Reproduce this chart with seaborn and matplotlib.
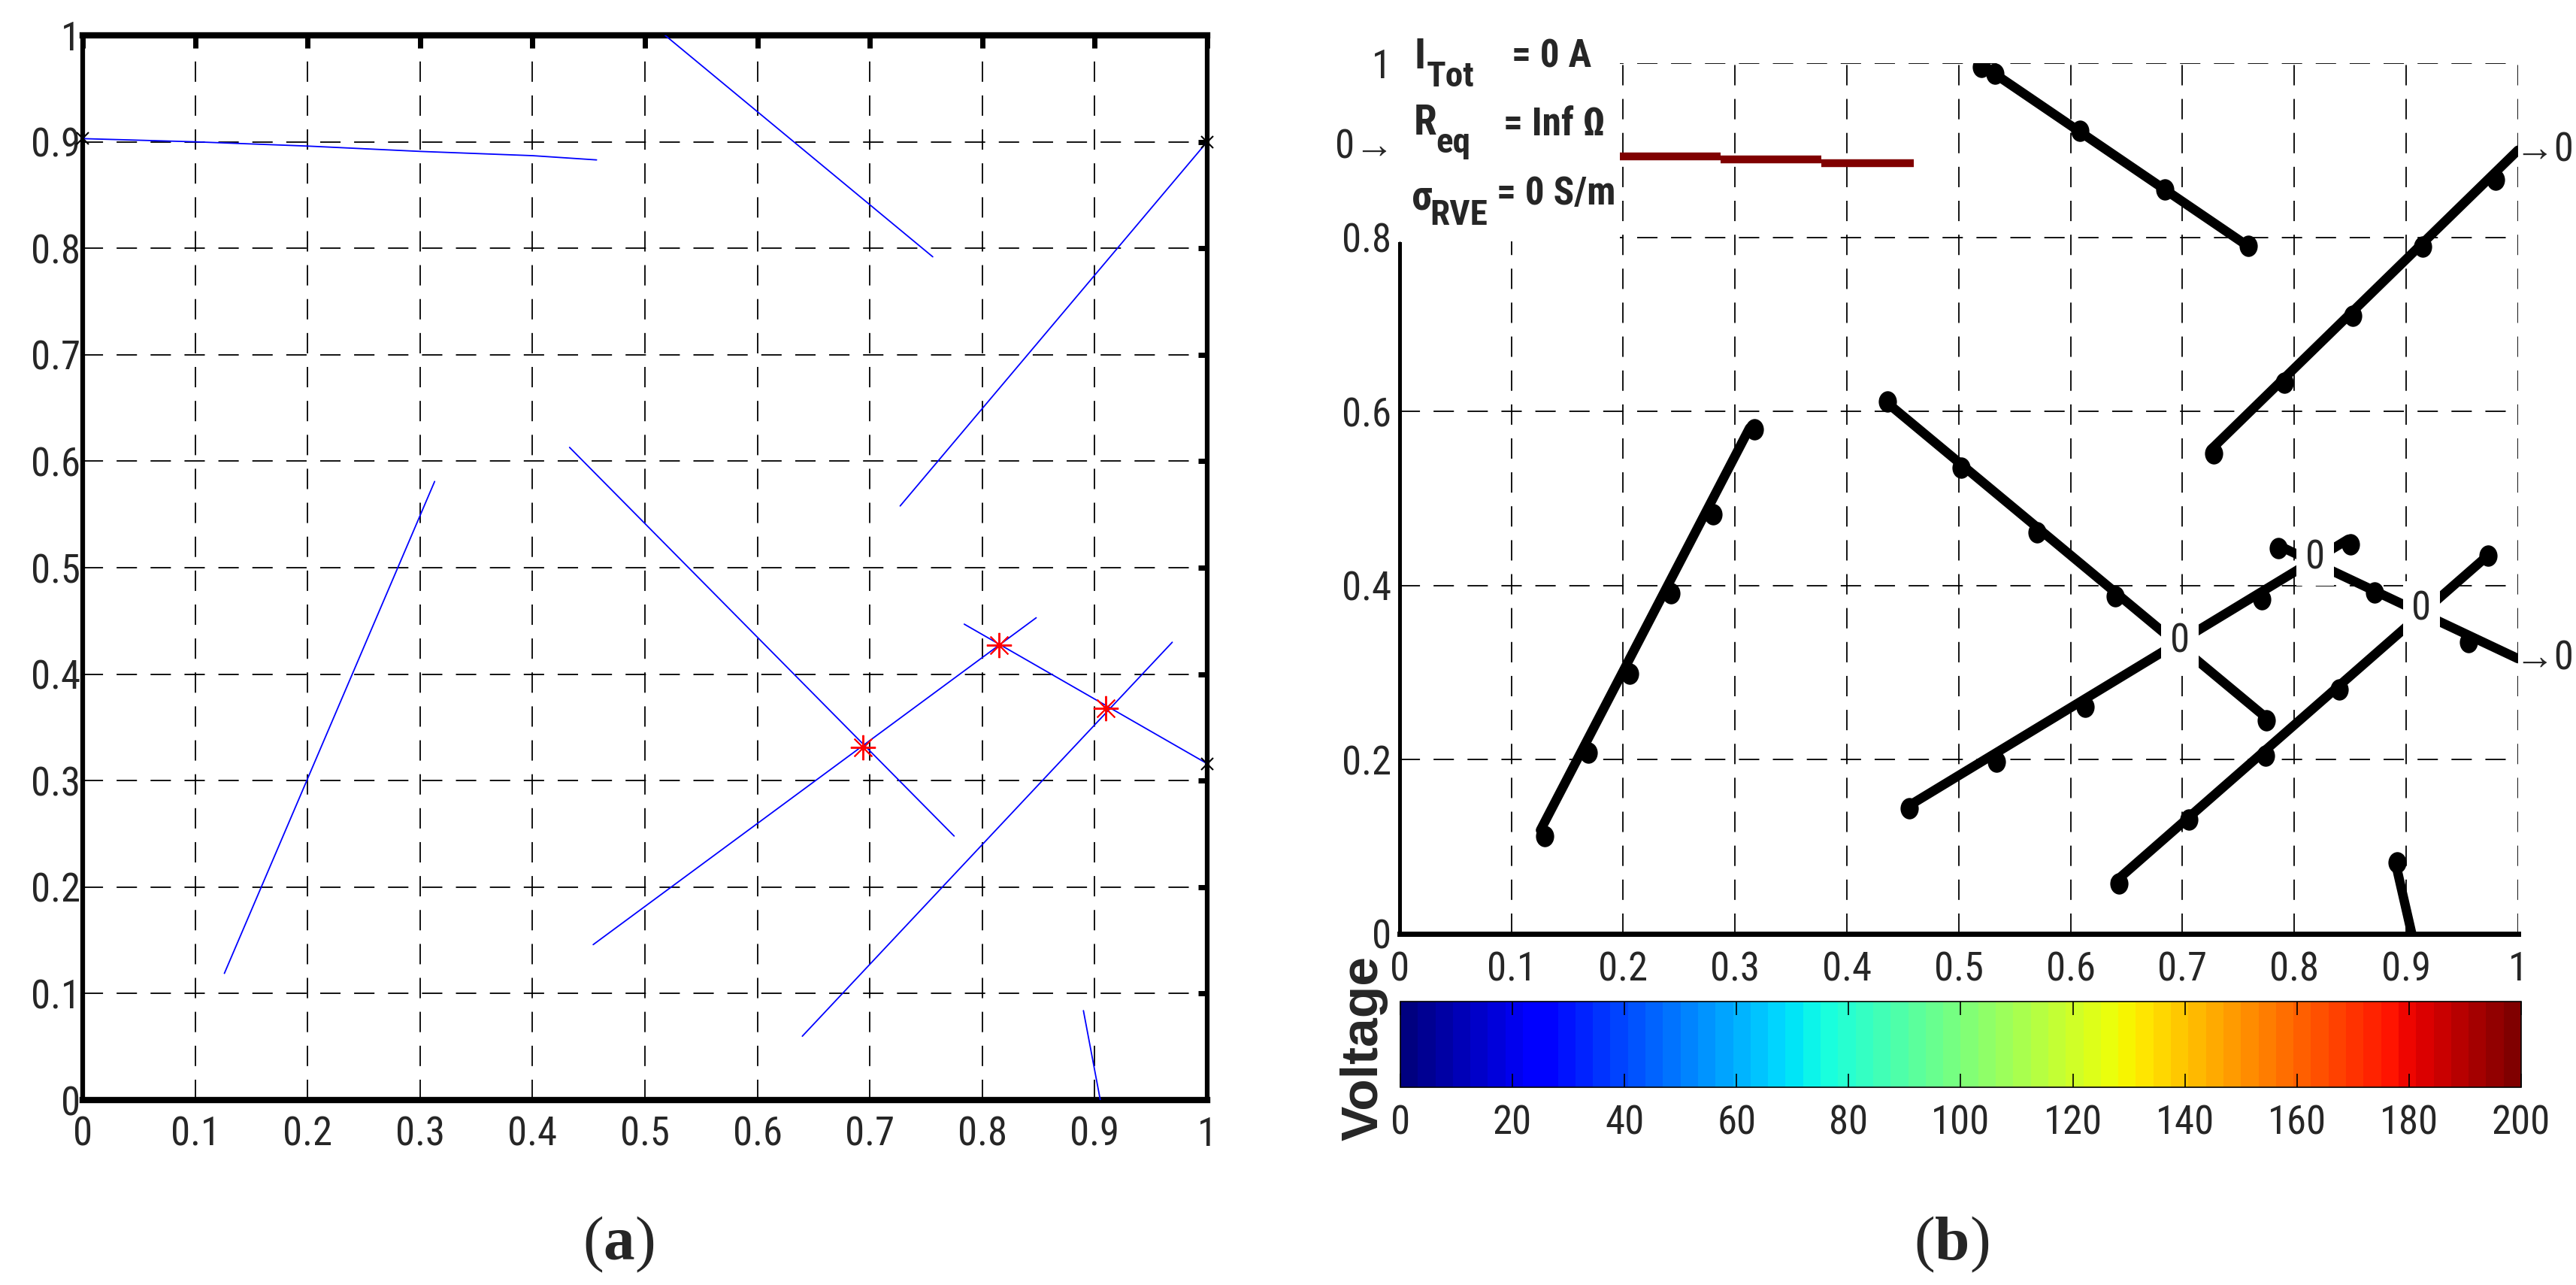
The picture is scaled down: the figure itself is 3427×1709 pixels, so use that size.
import numpy as np
import pandas as pd
import seaborn as sns
import matplotlib
matplotlib.use("Agg")
import matplotlib.pyplot as plt
import matplotlib.font_manager as fm
from matplotlib.markers import MarkerStyle
from matplotlib.transforms import Affine2D
from matplotlib.patches import Rectangle
from matplotlib.cm import ScalarMappable
from matplotlib.colors import Normalize

# fibres as polylines
fiber_id = [1, 1, 1, 1, 1, 1, 2, 2, 3, 3, 4, 4, 5, 5, 6, 6, 7, 7, 8, 8, 9, 9]
fiber_x = [0.0, 0.1, 0.2, 0.3, 0.4, 0.457, 0.518, 0.756, 0.727, 1.0, 0.126, 0.313,
           0.433, 0.775, 0.454, 0.848, 0.784, 1.0, 0.640, 0.969, 0.890, 0.905]
fiber_y = [0.903, 0.900, 0.896, 0.891, 0.887, 0.883, 1.0, 0.792, 0.558, 0.900, 0.119, 0.581,
           0.613, 0.248, 0.146, 0.453, 0.447, 0.316, 0.060, 0.430, 0.084, 0.0]

# fibre crossings
junc_x = [0.694, 0.815, 0.910]
junc_y = [0.331, 0.427, 0.368]
junc_volt = ["0", "0", "0"]

# fibres touching the cell border
edge_x = [0.0, 1.0, 1.0]
edge_y = [0.903, 0.900, 0.316]
edge_lbl = ["0\u2192", "\u21920", "\u21920"]

# resistor nodes drawn as dots in panel (b)
node_x = [0.520, 0.532, 0.608, 0.684, 0.759,
          0.728, 0.791, 0.852, 0.915, 0.980,
          0.130, 0.1685, 0.2055, 0.243, 0.280, 0.317,
          0.436, 0.502, 0.570, 0.640, 0.775,
          0.456, 0.534, 0.613, 0.771, 0.850,
          0.786, 0.872, 0.956,
          0.643, 0.706, 0.774, 0.840, 0.973,
          0.892]
node_y = [0.996, 0.988, 0.922, 0.855, 0.790,
          0.552, 0.633, 0.710, 0.789, 0.866,
          0.112, 0.208, 0.299, 0.391, 0.482, 0.579,
          0.611, 0.535, 0.461, 0.388, 0.245,
          0.144, 0.198, 0.261, 0.384, 0.447,
          0.443, 0.392, 0.335,
          0.058, 0.131, 0.205, 0.281, 0.434,
          0.082]

# visible part of fibre 1 in panel (b), coloured by voltage
hot_x0 = [0.197, 0.287, 0.377]
hot_x1 = [0.287, 0.377, 0.460]
hot_y = [0.893, 0.889, 0.885]
hot_volt = [200, 200, 200]

ticks_a = [0, 0.1, 0.2, 0.3, 0.4, 0.5, 0.6, 0.7, 0.8, 0.9, 1]
ticks_a_lbl = ["0", "0.1", "0.2", "0.3", "0.4", "0.5", "0.6", "0.7", "0.8", "0.9", "1"]
ticks_by = [0, 0.2, 0.4, 0.6, 0.8, 1]
ticks_by_lbl = ["0", "0.2", "0.4", "0.6", "0.8", "1"]
volt_ticks = [0, 20, 40, 60, 80, 100, 120, 140, 160, 180, 200]

sns.set_style("white")
# the original labels use a narrow sans face; take one if the machine has it
installed = {f.name for f in fm.fontManager.ttflist}
base_font, fs, narrow = "Liberation Sans", 36, False
for cand in ["Liberation Sans Narrow", "Arial Narrow", "Roboto Condensed"]:
    if cand in installed:
        base_font, fs, narrow = cand, 38, True
        break
plt.rcParams["font.family"] = [base_font, "Liberation Sans", "DejaVu Sans"]
plt.rcParams["mathtext.fontset"] = "custom"
plt.rcParams["mathtext.rm"] = "Liberation Serif"
plt.rcParams["mathtext.bf"] = "Liberation Serif:bold"

fig = plt.figure(figsize=(34.27, 17.09), dpi=100)
ax_a = fig.add_axes([0.0321, 0.1439, 0.4365, 0.8286])
ax_b = fig.add_axes([0.5433, 0.2733, 0.4342, 0.6776])
cax = fig.add_axes([0.5436, 0.1539, 0.4351, 0.0667])

fibers = pd.DataFrame({"fiber": fiber_id, "x": fiber_x, "y": fiber_y})
nodes = pd.DataFrame({"x": node_x, "y": node_y})
dash = (0, (15, 10))
cmap = plt.get_cmap("jet").resampled(64)
norm = Normalize(0, 200)

# ---------- panel (a): fibre geometry
sns.lineplot(data=fibers, x="x", y="y", units="fiber", estimator=None, sort=False,
             color="blue", lw=1.3, legend=False, ax=ax_a, zorder=3)
ax_a.plot(junc_x, junc_y, ls="none", marker=(8, 2, 0), ms=24, mec="red", mew=1.4, zorder=4)
ax_a.plot(edge_x, edge_y, ls="none", marker="x", ms=11, mec="black", mew=1.5,
          clip_on=False, zorder=4)
ax_a.set_xlim(0, 1)
ax_a.set_ylim(0, 1)
ax_a.set_xticks(ticks_a, ticks_a_lbl, fontsize=fs)
ax_a.set_yticks(ticks_a, ticks_a_lbl, fontsize=fs)
ax_a.set_xlabel("")
ax_a.set_ylabel("")
ax_a.grid(True, color="black", lw=1.3, ls=dash)
ax_a.tick_params(direction="in", top=True, right=True, width=5, color="black")
ax_a.tick_params(axis="x", length=12, pad=15)
ax_a.tick_params(axis="y", length=9, pad=2)
for side in ["top", "bottom"]:
    ax_a.spines[side].set_linewidth(6)
for side in ["left", "right"]:
    ax_a.spines[side].set_linewidth(4.5)
for sp in ax_a.spines.values():
    sp.set_color("black")

# ---------- panel (b): resistor network
sns.lineplot(data=fibers[fibers["fiber"] != 1], x="x", y="y", units="fiber", estimator=None,
             sort=False, color="black", lw=9, legend=False, ax=ax_b, zorder=3)
ax_b.hlines(hot_y, hot_x0, hot_x1, colors=[cmap(norm(v)) for v in hot_volt], lw=7.5, zorder=3)
sns.scatterplot(data=nodes, x="x", y="y", marker=MarkerStyle("o", transform=Affine2D().scale(0.85, 1)),
                s=420, color="black", edgecolor="black", linewidth=0, legend=False, ax=ax_b, zorder=4)
for jx, jy, v in zip(junc_x, junc_y, junc_volt):
    ax_b.annotate(v, (jx, jy), xytext=(4, 4), textcoords="offset points", ha="center", va="center",
                  fontsize=fs, zorder=6,
                  bbox=dict(boxstyle="square,pad=0.22", fc="white", ec="none"))
for ex, ey, lb in zip(edge_x, edge_y, edge_lbl):
    ax_b.annotate(lb, (ex, ey), xytext=(-5, 0) if ex == 0 else (-3, 0), textcoords="offset points",
                  ha="right" if ex == 0 else "left", va="center", fontsize=fs,
                  annotation_clip=False, zorder=6)

ax_b.set_xlim(0, 1)
ax_b.set_ylim(0, 1)
ax_b.set_xticks(ticks_a, ticks_a_lbl, fontsize=fs)
ax_b.set_yticks(ticks_by, ticks_by_lbl, fontsize=fs)
ax_b.set_xlabel("")
ax_b.set_ylabel("")
ax_b.grid(True, color="black", lw=1.3, ls=dash)
ax_b.tick_params(direction="in", width=5, color="black")
ax_b.tick_params(axis="x", length=13, pad=16)
ax_b.tick_params(axis="y", length=9, pad=8)
ax_b.spines["top"].set_visible(False)
ax_b.spines["right"].set_visible(False)
ax_b.spines["left"].set_linewidth(3.6)
ax_b.spines["left"].set_bounds(0, 0.793)
ax_b.spines["bottom"].set_linewidth(5)
for sp in ax_b.spines.values():
    sp.set_color("black")

# white info box in the upper left corner
ax_b.add_patch(Rectangle((-0.006, 0.795), 0.203, 0.26, fc="white", ec="none",
                         zorder=1, clip_on=False))
info_main = ["I", "R", "\u03c3"]
info_sub = ["Tot", "eq", "RVE"]
info_val = ["= 0 A", "= Inf \u03a9", "= 0 S/m"]
main_pos = [(0.013, 0.994), (0.013, 0.918), (0.011, 0.832)]
sub_pos = [(0.024, 0.973), (0.0326, 0.897), (0.027, 0.8145)]
val_pos = [(0.100, 0.995), (0.0926, 0.917), (0.087, 0.838)]
if narrow:
    fs_main, fs_sub, fs_val = 40, 34, 37
else:
    fs_main, fs_sub, fs_val = 37, 27, 32
for t, (px, py) in zip(info_main, main_pos):
    ax_b.text(px, py, t, fontsize=fs_main, fontweight="bold", va="baseline", zorder=6)
for t, (px, py) in zip(info_sub, sub_pos):
    ax_b.text(px, py, t, fontsize=fs_sub, fontweight="bold", va="baseline", zorder=6)
for t, (px, py) in zip(info_val, val_pos):
    ax_b.text(px, py, t, fontsize=fs_val, fontweight="bold", va="baseline", zorder=6)

# ---------- colour bar
cb = fig.colorbar(ScalarMappable(norm=norm, cmap=cmap), cax=cax, orientation="horizontal",
                  ticks=volt_ticks)
cax.set_axisbelow(False)
cb.outline.set_linewidth(1.2)
cb.outline.set_edgecolor("black")
cax.tick_params(axis="x", direction="in", top=True, length=13, width=1.2, color="black",
                labelsize=fs, pad=16)
fig.text(0.5296, 0.1843, "Voltage", rotation=90, ha="center", va="center",
         fontsize=50, fontweight="bold", family="Liberation Sans")

fig.text(0.2402, 0.0316, r"$(\mathbf{a})$", fontsize=60, ha="center", va="center")
fig.text(0.7575, 0.0316, r"$(\mathbf{b})$", fontsize=60, ha="center", va="center")

fig.savefig("out.png", dpi=100, facecolor="white")
